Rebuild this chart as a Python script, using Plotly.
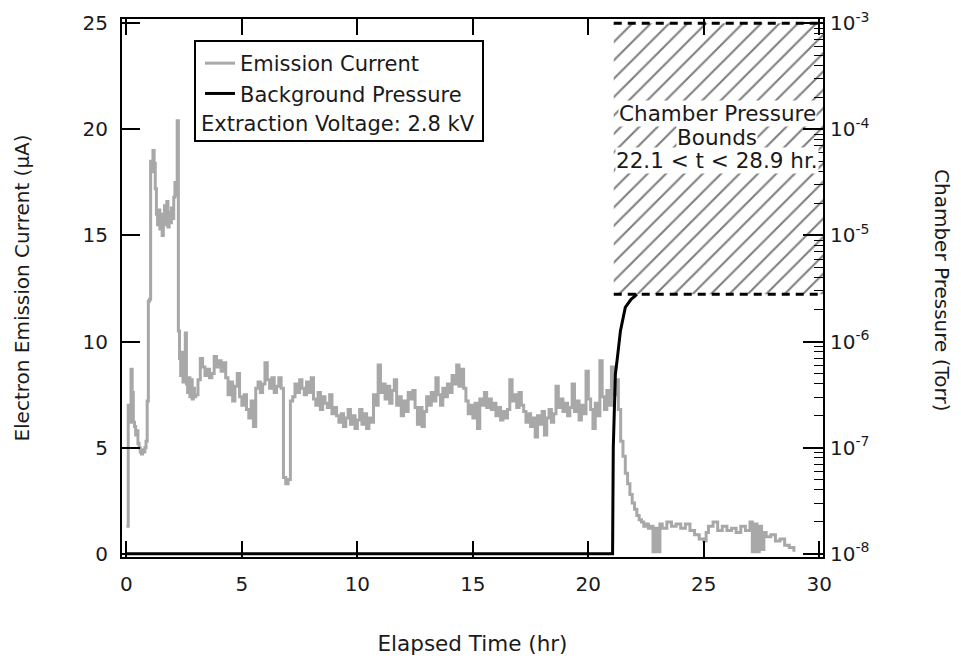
import plotly.graph_objects as go

# ---------------- data ----------------
emission_t = [
    0.00, 0.05, 0.08, 0.15, 0.20, 0.25, 0.30, 0.35, 0.40, 0.45, 0.50, 0.55, 0.60, 0.65, 0.70, 0.75,
    0.80, 0.85, 0.90, 0.95, 1.00, 1.05, 1.10, 1.15, 1.20, 1.25, 1.30, 1.35, 1.40, 1.45, 1.50, 1.55,
    1.60, 1.65, 1.70, 1.75, 1.80, 1.85, 1.90, 1.95, 2.00, 2.05, 2.10, 2.15, 2.20, 2.25, 2.30, 2.35,
    2.40, 2.45, 2.50, 2.55, 2.60, 2.65, 2.70, 2.75, 2.80, 2.85, 2.90, 2.95, 3.00, 3.10, 3.20, 3.30,
    3.40, 3.50, 3.60, 3.70, 3.80, 3.90, 4.00, 4.10, 4.20, 4.30, 4.40, 4.50, 4.60, 4.70, 4.80, 4.90,
    5.00, 5.10, 5.20, 5.30, 5.40, 5.50, 5.60, 5.70, 5.80, 5.90, 6.00, 6.10, 6.20, 6.30, 6.40, 6.50,
    6.60, 6.70, 6.80, 6.90, 7.00, 7.10, 7.20, 7.30, 7.40, 7.50, 7.60, 7.70, 7.80, 7.90, 8.00, 8.10,
    8.20, 8.30, 8.40, 8.50, 8.60, 8.70, 8.80, 8.90, 9.00, 9.10, 9.20, 9.30, 9.40, 9.50, 9.60, 9.70,
    9.80, 9.90, 10.00, 10.10, 10.20, 10.30, 10.40, 10.50, 10.60, 10.70, 10.80, 10.90, 11.00, 11.10,
    11.20, 11.30, 11.40, 11.50, 11.60, 11.70, 11.80, 11.90, 12.00, 12.10, 12.20, 12.30, 12.40, 12.50,
    12.60, 12.70, 12.80, 12.90, 13.00, 13.10, 13.20, 13.30, 13.40, 13.50, 13.60, 13.70, 13.80, 13.90,
    14.00, 14.10, 14.20, 14.30, 14.40, 14.50, 14.60, 14.70, 14.80, 14.90, 15.00, 15.10, 15.20, 15.30,
    15.40, 15.50, 15.60, 15.70, 15.80, 15.90, 16.00, 16.10, 16.20, 16.30, 16.40, 16.50, 16.60, 16.70,
    16.80, 16.90, 17.00, 17.10, 17.20, 17.30, 17.40, 17.50, 17.60, 17.70, 17.80, 17.90, 18.00, 18.10,
    18.20, 18.30, 18.40, 18.50, 18.60, 18.70, 18.80, 18.90, 19.00, 19.10, 19.20, 19.30, 19.40, 19.50,
    19.60, 19.70, 19.80, 19.90, 20.00, 20.10, 20.20, 20.30, 20.40, 20.50, 20.60, 20.70, 20.80, 20.90,
    21.00, 21.10, 21.20, 21.30, 21.40, 21.50, 21.60, 21.70, 21.80, 21.90, 22.00, 22.10, 22.20, 22.30,
    22.40, 22.50, 22.60, 22.70, 22.80, 22.90, 23.00, 23.10, 23.20, 23.40, 23.60, 23.80, 24.00, 24.20,
    24.40, 24.60, 24.80, 25.00, 25.10, 25.20, 25.40, 25.60, 25.80, 26.00, 26.20, 26.40, 26.60, 26.80,
    27.00, 27.10, 27.20, 27.30, 27.40, 27.50, 27.60, 27.70, 27.90, 28.10, 28.30, 28.50, 28.70, 28.90,
]
emission_uA = [
    1.3, 1.3, 7.0, 6.2, 8.7, 7.6, 6.2, 6.0, 5.6, 5.8, 5.2, 5.0, 4.8, 4.7, 4.9, 4.8,
    5.0, 5.3, 7.2, 11.9, 12.0, 18.5, 18.0, 19.0, 18.4, 17.2, 16.0, 15.5, 16.2, 15.3, 16.0, 15.0,
    15.8, 16.4, 15.5, 16.6, 15.4, 16.1, 15.6, 16.3, 15.8, 16.8, 17.5, 16.9, 20.4, 10.5, 9.2, 8.4,
    9.5, 8.1, 8.6, 10.4, 8.0, 7.6, 8.3, 7.4, 8.2, 7.3, 7.8, 7.4, 7.5, 8.2, 9.2, 8.8,
    8.4, 8.7, 8.3, 8.5, 9.3, 8.8, 9.1, 8.6, 9.0, 8.3, 7.5, 8.1, 7.2, 7.9, 8.5, 7.4,
    7.0, 7.5, 6.8, 6.4, 7.2, 6.0, 7.8, 8.1, 7.6, 8.0, 9.0, 8.2, 7.8, 8.3, 7.6, 7.9,
    8.3, 7.8, 3.6, 3.3, 3.5, 7.2, 7.4, 8.0, 7.6, 8.2, 7.8, 7.5, 8.1, 7.6, 8.3, 7.3,
    7.0, 7.6, 6.8, 7.4, 7.1, 6.9, 7.5, 6.6, 6.9, 6.5, 6.2, 6.6, 6.0, 6.4, 6.8, 6.1,
    6.5, 5.9, 6.3, 6.8, 6.1, 6.6, 5.9, 6.4, 6.2, 7.5, 7.0, 8.9, 7.6, 8.0,
    7.3, 7.9, 7.1, 7.7, 8.2, 7.0, 7.4, 6.5, 7.2, 6.7, 7.6, 7.3, 7.7, 6.9,
    6.1, 6.9, 6.0, 6.7, 7.4, 7.0, 7.6, 7.2, 8.3, 7.5, 7.0, 7.8, 7.4, 8.0,
    7.6, 8.4, 8.0, 8.9, 7.9, 8.7, 7.8, 7.2, 6.6, 7.0, 6.4, 7.1, 5.9, 7.3,
    7.0, 7.6, 6.9, 7.3, 6.8, 7.1, 6.5, 6.9, 6.3, 6.7, 6.4, 6.8, 8.2, 7.2,
    7.5, 6.9, 7.6, 7.0, 6.7, 6.2, 6.6, 6.0, 6.4, 5.5, 6.5, 6.1, 6.7, 5.6,
    6.4, 6.8, 6.2, 6.6, 7.9, 6.9, 7.3, 6.7, 7.1, 6.5, 6.9, 8.0, 6.7, 7.2,
    6.3, 7.0, 6.6, 8.6, 7.3, 6.8, 5.9, 7.1, 6.5, 9.1, 7.4, 6.8, 7.7, 7.0,
    8.8, 7.5, 8.2, 6.8, 5.3, 4.6, 3.8, 3.3, 2.8, 2.4, 2.1, 1.8, 1.6, 1.5,
    1.3, 1.4, 1.2, 1.3, 0.1, 1.2, 0.1, 1.4, 1.2, 1.5, 1.3, 1.4, 1.2, 1.4,
    1.1, 0.9, 0.7, 0.6, 1.0, 1.3, 1.5, 1.1, 1.3, 1.1, 1.2, 1.0, 1.3, 1.1,
    1.5, 0.1, 1.4, 0.1, 1.3, 0.2, 1.0, 0.8, 0.9, 0.6, 0.7, 0.4, 0.3, 0.1,
]

pressure_t = [0.0, 21.05, 21.08, 21.12, 21.17, 21.26, 21.39, 21.60, 21.85, 22.03, 22.10]
pressure_torr = [1e-8, 1e-8, 1e-7, 3e-7, 4.9e-7, 7.1e-7, 1.26e-6, 2.1e-6, 2.5e-6, 2.7e-6, 2.8e-6]

bounds_t = [21.1, 30.3]          # hatched region extent (hr)
bounds_torr = [2.8e-6, 1e-3]     # lower / upper chamber pressure bound

x_ticks = [0, 5, 10, 15, 20, 25, 30]
y_ticks = [0, 5, 10, 15, 20, 25]
p_ticks = [1e-8, 1e-7, 1e-6, 1e-5, 1e-4, 1e-3]
p_tick_text = ["10<sup>-8</sup>", "10<sup>-7</sup>", "10<sup>-6</sup>",
               "10<sup>-5</sup>", "10<sup>-4</sup>", "10<sup>-3</sup>"]
p_minor = [m * d for d in [1e-8, 1e-7, 1e-6, 1e-5, 1e-4] for m in range(2, 10)]

FONT = "DejaVu Sans"
TXT = "#1a1a1a"
FS = 20
FS_BIG = 21.5

fig = go.Figure()

# hatched pressure-bounds region
fig.add_trace(go.Scatter(
    x=[bounds_t[0], bounds_t[1], bounds_t[1], bounds_t[0], bounds_t[0]],
    y=[bounds_torr[0], bounds_torr[0], bounds_torr[1], bounds_torr[1], bounds_torr[0]],
    yaxis="y2", mode="lines", line=dict(width=0), fill="toself",
    fillcolor="rgba(0,0,0,0)",
    fillpattern=dict(shape="/", fgcolor="black", bgcolor="white", size=13, solidity=0.16),
    showlegend=False, hoverinfo="skip"))

# emission current
fig.add_trace(go.Scatter(
    x=emission_t, y=emission_uA, name="Emission Current", mode="lines",
    line=dict(color="#a8a8a8", width=3, shape="hv"), yaxis="y"))

# background pressure
fig.add_trace(go.Scatter(
    x=pressure_t, y=pressure_torr, name="Background Pressure", mode="lines",
    line=dict(color="black", width=3), yaxis="y2"))

# dashed bound lines
for p in bounds_torr:
    fig.add_trace(go.Scatter(
        x=bounds_t, y=[p, p], yaxis="y2", mode="lines",
        line=dict(color="black", width=3, dash="8px,6px"),
        showlegend=False, hoverinfo="skip"))

L, R, T, B = 122, 138, 19, 104
PW = 961 - L - R
PH = 661 - T - B

def px(xp):
    return (xp - L) / PW

def py(yp):
    return (661 - B - yp) / PH

fig.update_layout(
    width=961, height=661,
    margin=dict(l=L, r=R, t=T, b=B, autoexpand=False),
    paper_bgcolor="white", plot_bgcolor="white",
    font=dict(family=FONT, size=FS, color=TXT),
    showlegend=True,
    legend=dict(x=px(200), y=py(43), xanchor="left", yanchor="top",
                bgcolor="rgba(0,0,0,0)", borderwidth=0,
                font=dict(family=FONT, size=21, color=TXT),
                tracegroupgap=1, itemwidth=30),
    xaxis=dict(range=[-0.19, 30.16], tickvals=x_ticks, ticks="inside", ticklen=16,
               tickwidth=1.5, tickcolor="black", showline=True, linecolor="black",
               linewidth=2, mirror="ticks", showgrid=False, zeroline=False,
               ticklabelstandoff=8, automargin=False,
               title=dict(text="Elapsed Time (hr)", standoff=41,
                          font=dict(family=FONT, size=FS_BIG, color=TXT))),
    yaxis=dict(range=[-0.15, 25.2], tickvals=y_ticks, ticks="inside", ticklen=18,
               tickwidth=1.5, tickcolor="black", showline=True, linecolor="black",
               linewidth=2, showgrid=False, zeroline=False, ticklabelstandoff=8,
               automargin=False,
               title=dict(text="Electron Emission Current (\u03bcA)", standoff=48,
                          font=dict(family=FONT, size=FS, color=TXT))),
    yaxis2=dict(overlaying="y", side="right", type="log", range=[-8.03, -2.96],
                tickvals=p_ticks, ticktext=p_tick_text, ticks="inside", ticklen=20,
                tickwidth=1.5, tickcolor="black", showline=True, linecolor="black",
                linewidth=2, showgrid=False, zeroline=False, ticklabelstandoff=1,
                automargin=False,
                minor=dict(tickvals=p_minor, ticks="inside", ticklen=9, tickwidth=1.2,
                           tickcolor="black", showgrid=False)),
)

# legend frame and extra legend line
fig.add_shape(type="rect", xref="paper", yref="paper",
              x0=px(195), x1=px(483), y0=py(141), y1=py(41),
              line=dict(color="black", width=2), fillcolor="rgba(0,0,0,0)")
fig.add_annotation(xref="paper", yref="paper", x=px(199), y=py(124),
                   xanchor="left", yanchor="middle", showarrow=False,
                   text="Extraction Voltage: 2.8 kV",
                   font=dict(family=FONT, size=21, color=TXT))

# region label
for txt, ypix in [("Chamber Pressure", 113), ("Bounds", 137), ("22.1 &lt; t &lt; 28.9 hr.", 161)]:
    fig.add_annotation(xref="paper", yref="paper", x=px(717), y=py(ypix),
                       xanchor="center", yanchor="middle", showarrow=False,
                       text=txt, bgcolor="white", borderpad=0,
                       font=dict(family=FONT, size=FS_BIG, color=TXT))

# right axis title
fig.add_annotation(xref="paper", yref="paper", x=px(942), y=py(290),
                   xanchor="center", yanchor="middle", showarrow=False,
                   textangle=90, text="Chamber Pressure (Torr)",
                   font=dict(family=FONT, size=FS, color=TXT))

fig.write_html("out.html", post_script="document.body.style.margin='0';",
               config={"displayModeBar": False})
